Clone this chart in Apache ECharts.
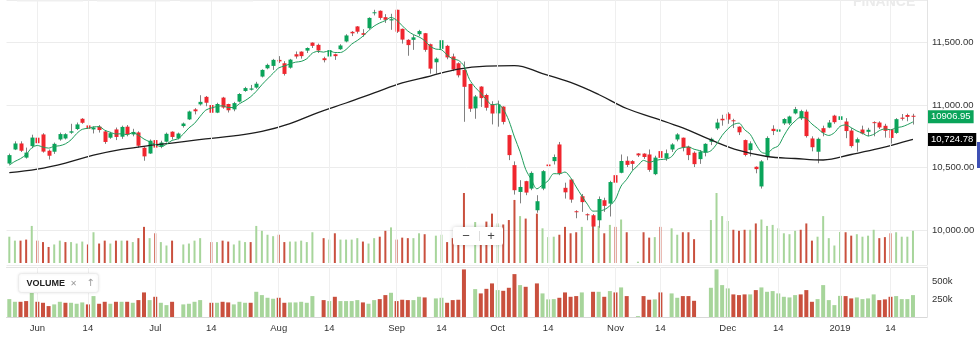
<!DOCTYPE html>
<html>
<head>
<meta charset="utf-8">
<script src="https://cdn.jsdelivr.net/npm/echarts@6/dist/echarts.min.js"></script>
<style>
  html, body { margin: 0; padding: 0; background: #fff; }
  #chart { width: 980px; height: 342px; }
</style>
</head>
<body>
<div id="chart"></div>
<script>
// NIFTY 50 daily sessions, 25 May 2018 - 18 Jan 2019
const dates = [
  '2018-05-25','2018-05-28','2018-05-29','2018-05-30','2018-05-31',
  '2018-06-01','2018-06-04','2018-06-05','2018-06-06','2018-06-07','2018-06-08','2018-06-11','2018-06-12','2018-06-13','2018-06-14','2018-06-15','2018-06-18','2018-06-19','2018-06-20','2018-06-21','2018-06-22','2018-06-25','2018-06-26','2018-06-27','2018-06-28','2018-06-29',
  '2018-07-02','2018-07-03','2018-07-04','2018-07-05','2018-07-06','2018-07-09','2018-07-10','2018-07-11','2018-07-12','2018-07-13','2018-07-16','2018-07-17','2018-07-18','2018-07-19','2018-07-20','2018-07-23','2018-07-24','2018-07-25','2018-07-26','2018-07-27','2018-07-30','2018-07-31',
  '2018-08-01','2018-08-02','2018-08-03','2018-08-06','2018-08-07','2018-08-08','2018-08-09','2018-08-10','2018-08-13','2018-08-14','2018-08-16','2018-08-17','2018-08-20','2018-08-21','2018-08-23','2018-08-24','2018-08-27','2018-08-28','2018-08-29','2018-08-30','2018-08-31',
  '2018-09-03','2018-09-04','2018-09-05','2018-09-06','2018-09-07','2018-09-10','2018-09-11','2018-09-12','2018-09-14','2018-09-17','2018-09-18','2018-09-19','2018-09-21','2018-09-24','2018-09-25','2018-09-26','2018-09-27','2018-09-28',
  '2018-10-01','2018-10-03','2018-10-04','2018-10-05','2018-10-08','2018-10-09','2018-10-10','2018-10-11','2018-10-12','2018-10-15','2018-10-16','2018-10-17','2018-10-19','2018-10-22','2018-10-23','2018-10-24','2018-10-25','2018-10-26','2018-10-29','2018-10-30','2018-10-31',
  '2018-11-01','2018-11-02','2018-11-05','2018-11-06','2018-11-07','2018-11-09','2018-11-12','2018-11-13','2018-11-14','2018-11-15','2018-11-16','2018-11-19','2018-11-20','2018-11-21','2018-11-22','2018-11-26','2018-11-27','2018-11-28','2018-11-29','2018-11-30',
  '2018-12-03','2018-12-04','2018-12-05','2018-12-06','2018-12-07','2018-12-10','2018-12-11','2018-12-12','2018-12-13','2018-12-14','2018-12-17','2018-12-18','2018-12-19','2018-12-20','2018-12-21','2018-12-24','2018-12-26','2018-12-27','2018-12-28','2018-12-31',
  '2019-01-01','2019-01-02','2019-01-03','2019-01-04','2019-01-07','2019-01-08','2019-01-09','2019-01-10','2019-01-11','2019-01-14','2019-01-15','2019-01-16','2019-01-17','2019-01-18'
];
// two empty sessions keep a little room at the right edge
const spareDates = ['2019-01-21', '2019-01-22'];

const opens = [
  10533,10645,10693,10580,10672,10739,10765,10635,10627,10725,
  10733,10779,10808,10890,10837,10805,10827,10789,10739,10805,
  10747,10827,10765,10781,10659,10613,10720,10667,10707,10787,
  10733,10832,10885,10965,11005,11065,11000,10939,11059,11008,
  10965,11027,11112,11122,11139,11227,11293,11312,11360,11333,
  11298,11405,11426,11434,11498,11480,11373,11387,11405,11445,
  11507,11584,11627,11573,11613,11733,11752,11701,11675,11760,
  11608,11520,11520,11565,11573,11485,11341,11448,11472,11387,
  11333,11280,11168,10973,11147,11080,11005,10933,10987,10760,
  10520,10306,10392,10333,10160,10333,10525,10552,10685,10339,
  10405,10152,10272,10128,10120,10080,10240,10213,10440,10459,
  10555,10552,10613,10612,10605,10448,10632,10573,10645,10725,
  10739,10667,10619,10568,10622,10707,10813,10890,10930,10878,
  10827,10720,10640,10507,10350,10590,10810,10787,10853,10853,
  10933,10893,10947,10733,10627,10815,10820,10915,10881,10868,
  10796,10700,10804,10786,10863,10860,10834,10807,10777,10899,
  10920,10914
];
const highs = [
  10612,10710,10710,10660,10763,10765,10775,10645,10700,10780,
  10775,10850,10860,10895,10840,10830,10840,10800,10785,10820,
  10835,10840,10810,10790,10670,10725,10730,10715,10780,10790,
  10780,10860,10955,10975,11078,11072,11010,11018,11065,11010,
  11025,11095,11145,11160,11185,11285,11330,11368,11390,11350,
  11368,11427,11428,11460,11500,11490,11385,11445,11410,11485,
  11565,11590,11630,11605,11700,11760,11755,11725,11728,11760,
  11610,11525,11560,11600,11575,11490,11380,11525,11480,11410,
  11340,11347,11170,11080,11150,11090,11030,11035,10990,10762,
  10550,10400,10395,10470,10280,10480,10525,10605,10705,10380,
  10410,10160,10290,10135,10130,10270,10260,10395,10440,10605,
  10590,10560,10616,10615,10645,10595,10655,10645,10695,10775,
  10740,10675,10630,10640,10695,10740,10890,10922,10942,10890,
  10830,10725,10710,10510,10560,10750,10838,10815,10895,10915,
  10985,10962,10963,10750,10740,10835,10880,10922,10925,10895,
  10815,10740,10835,10818,10870,10870,10850,10808,10895,10928,
  10931,10930
];
const lows = [
  10525,10640,10625,10572,10655,10680,10620,10565,10610,10715,
  10725,10770,10800,10850,10775,10773,10780,10690,10730,10720,
  10730,10750,10750,10660,10555,10610,10600,10655,10700,10725,
  10725,10820,10880,10925,10995,10990,10925,10935,10970,10940,
  10950,11020,11105,11115,11130,11220,11285,11280,11335,11235,
  11290,11370,11370,11415,11455,11415,11340,11375,11360,11440,
  11500,11550,11570,11545,11605,11715,11680,11655,11600,11575,
  11490,11393,11440,11550,11425,11250,11250,11440,11365,11270,
  11220,10866,10945,10890,10985,10955,10845,10827,10845,10560,
  10285,10215,10280,10320,10140,10320,10440,10525,10440,10253,
  10220,10096,10147,10080,10013,10020,10147,10110,10345,10455,
  10505,10480,10585,10570,10467,10440,10530,10555,10625,10710,
  10630,10560,10505,10530,10590,10680,10800,10835,10850,10816,
  10760,10590,10590,10455,10333,10560,10760,10750,10840,10840,
  10925,10880,10740,10630,10535,10750,10815,10850,10835,10735,
  10660,10628,10765,10750,10750,10808,10740,10692,10770,10876,
  10870,10844
];
const closes = [
  10600,10693,10635,10620,10740,10695,10628,10595,10690,10768,
  10767,10790,10845,10858,10810,10820,10800,10705,10775,10745,
  10825,10765,10785,10675,10590,10715,10660,10700,10770,10745,
  10772,10852,10948,10950,11025,11018,10938,11008,10980,10958,
  11015,11088,11135,11132,11170,11280,11320,11360,11348,11248,
  11362,11387,11390,11455,11472,11435,11358,11438,11390,11475,
  11555,11572,11585,11560,11695,11740,11695,11680,11685,11585,
  11522,11478,11540,11590,11440,11290,11370,11517,11380,11283,
  11237,11145,10970,11068,11055,10978,10932,11005,10865,10600,
  10320,10346,10301,10458,10232,10472,10512,10585,10453,10303,
  10245,10145,10225,10120,10030,10250,10195,10385,10380,10553,
  10522,10530,10598,10585,10482,10580,10578,10615,10685,10765,
  10659,10600,10528,10628,10690,10730,10860,10878,10884,10870,
  10782,10601,10694,10488,10550,10737,10792,10805,10888,10908,
  10967,10951,10752,10663,10730,10780,10860,10863,10910,10792,
  10672,10727,10772,10802,10855,10821,10794,10737,10887,10890,
  10905,10906.95
];
// traded volume per session (0 where no volume is reported)
const volumes = [
  254000,216000,216000,226000,358000,216000,202000,155000,179000,216000,
  202000,202000,188000,207000,179000,297000,188000,216000,188000,216000,
  216000,216000,202000,240000,349000,240000,287000,202000,169000,216000,
  0,179000,188000,216000,240000,0,202000,202000,216000,207000,
  179000,216000,202000,202000,358000,311000,273000,259000,273000,202000,
  207000,207000,216000,202000,297000,0,240000,226000,287000,226000,
  226000,226000,240000,207000,188000,240000,254000,311000,344000,226000,
  245000,240000,240000,287000,278000,0,264000,273000,202000,240000,
  245000,676000,0,396000,335000,400000,477000,382000,372000,415000,
  609000,453000,429000,0,477000,335000,250000,254000,273000,349000,
  287000,297000,349000,0,358000,358000,287000,368000,349000,420000,
  297000,0,13000,297000,245000,250000,349000,0,335000,273000,
  297000,297000,230000,0,0,415000,676000,453000,406000,321000,
  311000,321000,321000,382000,420000,358000,368000,335000,287000,278000,
  311000,321000,382000,216000,254000,453000,240000,169000,300000,297000,
  264000,278000,254000,264000,321000,240000,250000,287000,297000,254000,
  254000,311000
];
// 5-session moving average of the close
const ma5 = [
  10520,10550,10572,10605,10658,10677,10664,10656,10670,10675,
  10690,10722,10772,10806,10814,10825,10827,10799,10782,10769,
  10770,10763,10779,10759,10728,10706,10685,10668,10687,10718,
  10729,10768,10817,10853,10909,10959,10976,10988,10994,10980,
  10980,11010,11035,11066,11109,11162,11208,11253,11296,11311,
  11328,11342,11348,11369,11414,11428,11422,11432,11419,11419,
  11443,11486,11515,11549,11593,11630,11655,11674,11699,11677,
  11633,11590,11562,11543,11514,11468,11446,11441,11399,11368,
  11357,11312,11203,11141,11095,11043,11001,11008,10967,10876,
  10744,10627,10486,10405,10331,10362,10395,10452,10451,10465,
  10420,10346,10274,10208,10153,10154,10164,10196,10248,10353,
  10407,10474,10517,10558,10543,10555,10565,10568,10588,10645,
  10660,10665,10647,10636,10621,10635,10687,10757,10808,10844,
  10855,10803,10766,10687,10623,10614,10652,10674,10754,10826,
  10872,10904,10893,10848,10813,10775,10757,10779,10829,10841,
  10819,10793,10775,10753,10766,10795,10809,10802,10819,10826,
  10843,10865
];
// 50-session moving average, [session index, value]
const ma50 = [
  [0,10461],[5,10489],[10,10537],[15,10599],[20,10645],[25,10677],[30,10701],
  [35,10730],[40,10753],[45,10789],[50,10852],[55,10940],[60,11016],[65,11096],
  [70,11176],[75,11231],[80,11287],[85,11311],[90,11315],[95,11251],[100,11180],
  [105,11084],[110,10972],[115,10896],[120,10817],[125,10721],[130,10637],
  [135,10589],[140,10573],[145,10561],[150,10605],[155,10653],[160,10713],[161,10724.78]
];
const lastClose = 10906.95;
const lastMa50 = 10724.78;

// date axis marks
const axisMarks = {
  '2018-06-01': 'Jun', '2018-06-14': '14', '2018-07-02': 'Jul', '2018-07-16': '14',
  '2018-08-01': 'Aug', '2018-08-14': '14', '2018-09-03': 'Sep', '2018-09-14': '14',
  '2018-10-01': 'Oct', '2018-10-15': '14', '2018-11-01': 'Nov', '2018-11-14': '14',
  '2018-12-03': 'Dec', '2018-12-14': '14', '2019-01-01': '2019', '2019-01-14': '14'
};

const UP = '#0aa45a', DOWN = '#f0262e', WICK = '#808080';
const VOL_UP = '#a7d59b', VOL_DOWN = '#c9503e';
const FONT = '"Liberation Sans", Arial, Helvetica, sans-serif';

const axisDates = dates.concat(spareDates);
const candleData = dates.map((d, i) => [i, opens[i], closes[i], lows[i], highs[i]]);
const volumeData = volumes.map((v, i) => {
  const up = i === 0 ? closes[i] >= opens[i] : closes[i] >= closes[i - 1];
  return { value: v, itemStyle: { color: up ? VOL_UP : VOL_DOWN } };
});
const gridMarks = Object.keys(axisMarks).map(d => ({ xAxis: d }));
const vLines = {
  silent: true, symbol: ['none', 'none'], animation: false,
  label: { show: false },
  lineStyle: { color: '#efefef', width: 1, type: 'solid' },
  emphasis: { disabled: true },
  data: gridMarks
};

function fmtPrice(v) {
  return v.toLocaleString('en-US', { minimumFractionDigits: 2, maximumFractionDigits: 2 });
}

// value tag at the right edge of the price grid
function valueTag(value, text, bg) {
  return {
    silent: true, symbol: ['none', 'none'], animation: false,
    lineStyle: { color: 'rgba(0,0,0,0)', width: 0 },
    emphasis: { disabled: true },
    label: { show: true, position: 'end', distance: 1, formatter: () => text,
      color: '#fff', backgroundColor: bg, padding: [2, 3, 1, 3],
      fontSize: 9.5, fontFamily: FONT },
    data: [{ yAxis: value }]
  };
}

function renderCandle(params, api) {
  const i = api.value(0);
  const o = api.value(1), c = api.value(2), l = api.value(3), h = api.value(4);
  const pO = api.coord([i, o]), pC = api.coord([i, c]);
  const pL = api.coord([i, l]), pH = api.coord([i, h]);
  const x = Math.round(pO[0]);
  const w = 4;
  const top = Math.min(pO[1], pC[1]);
  const bh = Math.max(Math.abs(pO[1] - pC[1]), 1);
  return {
    type: 'group',
    children: [
      { type: 'line', shape: { x1: x + 0.5, y1: pH[1], x2: x + 0.5, y2: pL[1] },
        style: { stroke: WICK, lineWidth: 1 } },
      { type: 'rect', shape: { x: x - 1.5, y: top, width: w, height: bh },
        style: { fill: c >= o ? UP : DOWN } }
    ]
  };
}

const chart = echarts.init(document.getElementById('chart'), null, { renderer: 'canvas' });
chart.setOption({
  animation: false,
  backgroundColor: '#ffffff',
  textStyle: { fontFamily: FONT },
  grid: [
    { left: 6.5, right: 53, top: 0, height: 265 },
    { left: 6.5, right: 53, top: 0, height: 263 },
    { left: 6.5, right: 53, top: 267, height: 50 }
  ],
  xAxis: [
    { type: 'category', gridIndex: 0, data: axisDates, boundaryGap: true, show: false },
    { type: 'category', gridIndex: 1, data: axisDates, boundaryGap: true, show: false },
    { type: 'category', gridIndex: 2, data: axisDates, boundaryGap: true,
      axisLine: { lineStyle: { color: '#d8d8d8' } },
      axisTick: { show: false },
      splitLine: { show: false },
      axisLabel: {
        color: '#333', fontSize: 9.5, margin: 6, fontFamily: FONT,
        interval: (idx, val) => axisMarks[val] !== undefined,
        formatter: (val) => axisMarks[val] || ''
      } },
    { type: 'category', gridIndex: 2, position: 'top', data: axisDates, boundaryGap: true,
      axisLine: { lineStyle: { color: '#e3e3e3' } },
      axisTick: { show: false }, axisLabel: { show: false }, splitLine: { show: false } }
  ],
  yAxis: [
    { type: 'value', gridIndex: 0, position: 'right', min: 9723, max: 11838,
      minInterval: 500, maxInterval: 500, splitNumber: 4,
      axisLine: { show: true, lineStyle: { color: '#e3e3e3' } },
      axisTick: { show: false },
      splitLine: { lineStyle: { color: '#ececec', width: 1 } },
      axisLabel: { color: '#333', fontSize: 9.5, margin: 5, fontFamily: FONT,
        showMinLabel: false, showMaxLabel: false, formatter: fmtPrice } },
    { type: 'value', gridIndex: 1, min: 0, max: 2540000, show: false },
    { type: 'value', gridIndex: 2, position: 'right', min: 0, max: 710000,
      minInterval: 250000, maxInterval: 250000,
      axisLine: { show: true, lineStyle: { color: '#e3e3e3' } },
      axisTick: { show: false },
      splitLine: { show: false },
      axisLabel: { color: '#333', fontSize: 9.5, margin: 5, fontFamily: FONT,
        showMinLabel: false, showMaxLabel: false,
        formatter: v => (v / 1000) + 'k' } }
  ],
  series: [
    { name: 'Volume overlay', type: 'bar', xAxisIndex: 1, yAxisIndex: 1,
      data: volumeData, barWidth: 2, z: 1, silent: true, markLine: vLines },
    { name: 'Volume', type: 'bar', xAxisIndex: 2, yAxisIndex: 2,
      data: volumeData, barWidth: 4, z: 2, silent: true, markLine: vLines },
    { name: 'NIFTY 50', type: 'custom', xAxisIndex: 0, yAxisIndex: 0,
      renderItem: renderCandle, encode: { x: 0, y: [1, 2, 3, 4] },
      data: candleData, z: 3, silent: true },
    { name: 'MA 50', type: 'line', xAxisIndex: 0, yAxisIndex: 0, data: ma50,
      showSymbol: false, symbol: 'none', smooth: 0.4, z: 4, silent: true,
      lineStyle: { color: '#1d1d1d', width: 1.3 },
      markLine: valueTag(lastMa50, fmtPrice(lastMa50), '#000000') },
    { name: 'MA 5', type: 'line', xAxisIndex: 0, yAxisIndex: 0, data: ma5,
      showSymbol: false, symbol: 'none', smooth: 0.3, z: 5, silent: true,
      lineStyle: { color: '#1f9d5c', width: 1 },
      markLine: valueTag(lastClose, lastClose.toFixed(2), '#0aa45a') }
  ],
  graphic: [
    // faint header chips along the top edge
    { type: 'rect', left: 17, top: 0, z: 100, shape: { width: 66, height: 1.5 }, style: { fill: '#efefef' }, silent: true },
    { type: 'rect', left: 97, top: 0, z: 100, shape: { width: 73, height: 1.5 }, style: { fill: '#efefef' }, silent: true },
    { type: 'rect', left: 180, top: 0, z: 100, shape: { width: 73, height: 1.5 }, style: { fill: '#efefef' }, silent: true },
    // watermark
    { type: 'text', left: 853, top: -5, z: 100, silent: true,
      style: { text: 'FINANCE', fill: '#ebebeb', font: 'bold 14px ' + FONT } },
    // zoom buttons
    { type: 'group', left: 453, top: 227, z: 100, silent: true, children: [
      { type: 'rect', z: 100, shape: { x: 0, y: 0, width: 50, height: 18, r: 2 },
        style: { fill: '#ffffff', shadowBlur: 4, shadowColor: 'rgba(0,0,0,0.18)' } },
      { type: 'text', z: 101, x: 13, y: 9, style: { text: '\u2212', fill: '#444', font: '13px ' + FONT, textAlign: 'center', textVerticalAlign: 'middle' } },
      { type: 'line', z: 101, shape: { x1: 26.5, y1: 4, x2: 26.5, y2: 14 }, style: { stroke: '#ddd', lineWidth: 1 } },
      { type: 'text', z: 101, x: 38, y: 9, style: { text: '+', fill: '#444', font: '13px ' + FONT, textAlign: 'center', textVerticalAlign: 'middle' } }
    ] },
    // volume study chip
    { type: 'group', left: 18, top: 273, z: 100, silent: true, children: [
      { type: 'rect', z: 100, shape: { x: 0, y: 0, width: 80, height: 19, r: 3 },
        style: { fill: '#fff', stroke: '#ececec', lineWidth: 1, shadowBlur: 3, shadowColor: 'rgba(0,0,0,0.08)' } },
      { type: 'text', z: 101, x: 8, y: 10, style: { text: 'VOLUME', fill: '#222', font: 'bold 9px ' + FONT, textVerticalAlign: 'middle' } },
      { type: 'text', z: 101, x: 55, y: 10, style: { text: '\u2715', fill: '#9a9a9a', font: '8px "DejaVu Sans", sans-serif', textAlign: 'center', textVerticalAlign: 'middle' } },
      { type: 'text', z: 101, x: 72, y: 10, style: { text: '\u2191', fill: '#9a9a9a', font: '10px "DejaVu Sans", sans-serif', textAlign: 'center', textVerticalAlign: 'middle' } }
    ] },
    // scroll marker at the right edge
    { type: 'rect', left: 977, top: 142, z: 100, shape: { width: 3, height: 26 }, style: { fill: '#3f51b5' }, silent: true }
  ]
});
</script>
</body>
</html>
